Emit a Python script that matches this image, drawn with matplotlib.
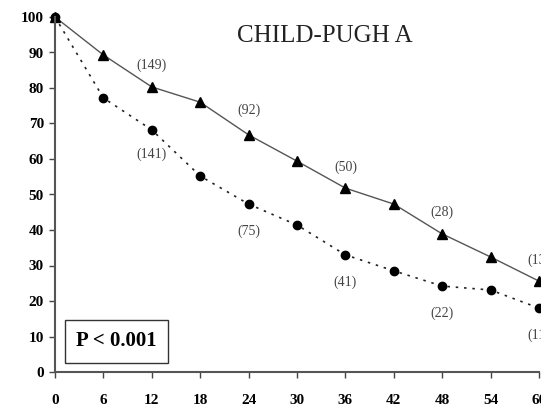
import matplotlib
matplotlib.use("Agg")
import matplotlib.pyplot as plt

# survival (%) by month, Child-Pugh A
months = [0, 6, 12, 18, 24, 30, 36, 42, 48, 54, 60]
group_tri = [100, 89.3, 80.3, 76.0, 66.8, 59.4, 51.8, 47.3, 38.9, 32.4, 25.6]
group_dot = [100, 77.2, 68.2, 55.2, 47.3, 41.4, 33.0, 28.5, 24.2, 23.1, 18.0]

# numbers at risk
tri_label_x = [12, 24, 36, 48, 60]
tri_label_y = [86.5, 73.8, 57.7, 45.0, 31.5]
tri_labels = ["(149)", "(92)", "(50)", "(28)", "(13)"]
dot_label_x = [12, 24, 36, 48, 60]
dot_label_y = [61.4, 39.7, 25.4, 16.6, 10.4]
dot_labels = ["(141)", "(75)", "(41)", "(22)", "(11)"]

xticks = list(range(0, 61, 6))
yticks = list(range(0, 101, 10))

serif = ["Liberation Serif", "DejaVu Serif"]

fig = plt.figure(figsize=(5.41, 4.11), dpi=100)
ax = fig.add_axes([55 / 541, 39 / 411, 484 / 541, 355 / 411])

ax.plot(months, group_tri, "-", color="#555555", lw=1.0, marker="^",
        markersize=7.5, markerfacecolor="black", markeredgecolor="black",
        clip_on=False)
ax.plot(months, group_dot, linestyle=(0, (1.5, 3.5)), color="#222222", lw=1.2,
        marker="o", markersize=6, markerfacecolor="black",
        markeredgecolor="black", clip_on=False)

for x, y, t in zip(tri_label_x, tri_label_y, tri_labels):
    ax.text(x, y, t, ha="center", va="center", fontsize=10, family=serif,
            color="#444444")
for x, y, t in zip(dot_label_x, dot_label_y, dot_labels):
    ax.text(x, y, t, ha="center", va="center", fontsize=10, family=serif,
            color="#444444")

ax.text(33.5, 94.6, "CHILD-PUGH A", ha="center", va="center", fontsize=18,
        family=serif, color="#222222")
ax.text(2.6, 8.7, "P < 0.001", ha="left", va="center", fontsize=15,
        family=serif, fontweight="bold",
        bbox=dict(boxstyle="square,pad=0.55", facecolor="white",
                  edgecolor="#333333", lw=1.0))

ax.set_xlim(0, 60)
ax.set_ylim(0, 100)
ax.set_xticks(xticks)
ax.set_yticks(yticks)
for lab in ax.get_xticklabels() + ax.get_yticklabels():
    lab.set_family(serif)
    lab.set_fontweight("bold")
    lab.set_fontsize(11)
ax.tick_params(axis="both", direction="out", length=4, width=1,
               color="#444444")
ax.tick_params(axis="x", pad=12)
ax.tick_params(axis="y", pad=4)
ax.spines["top"].set_visible(False)
ax.spines["right"].set_visible(False)
for s in ["left", "bottom"]:
    ax.spines[s].set_color("#555555")
    ax.spines[s].set_linewidth(1.5)

fig.savefig("out.png", dpi=100)
